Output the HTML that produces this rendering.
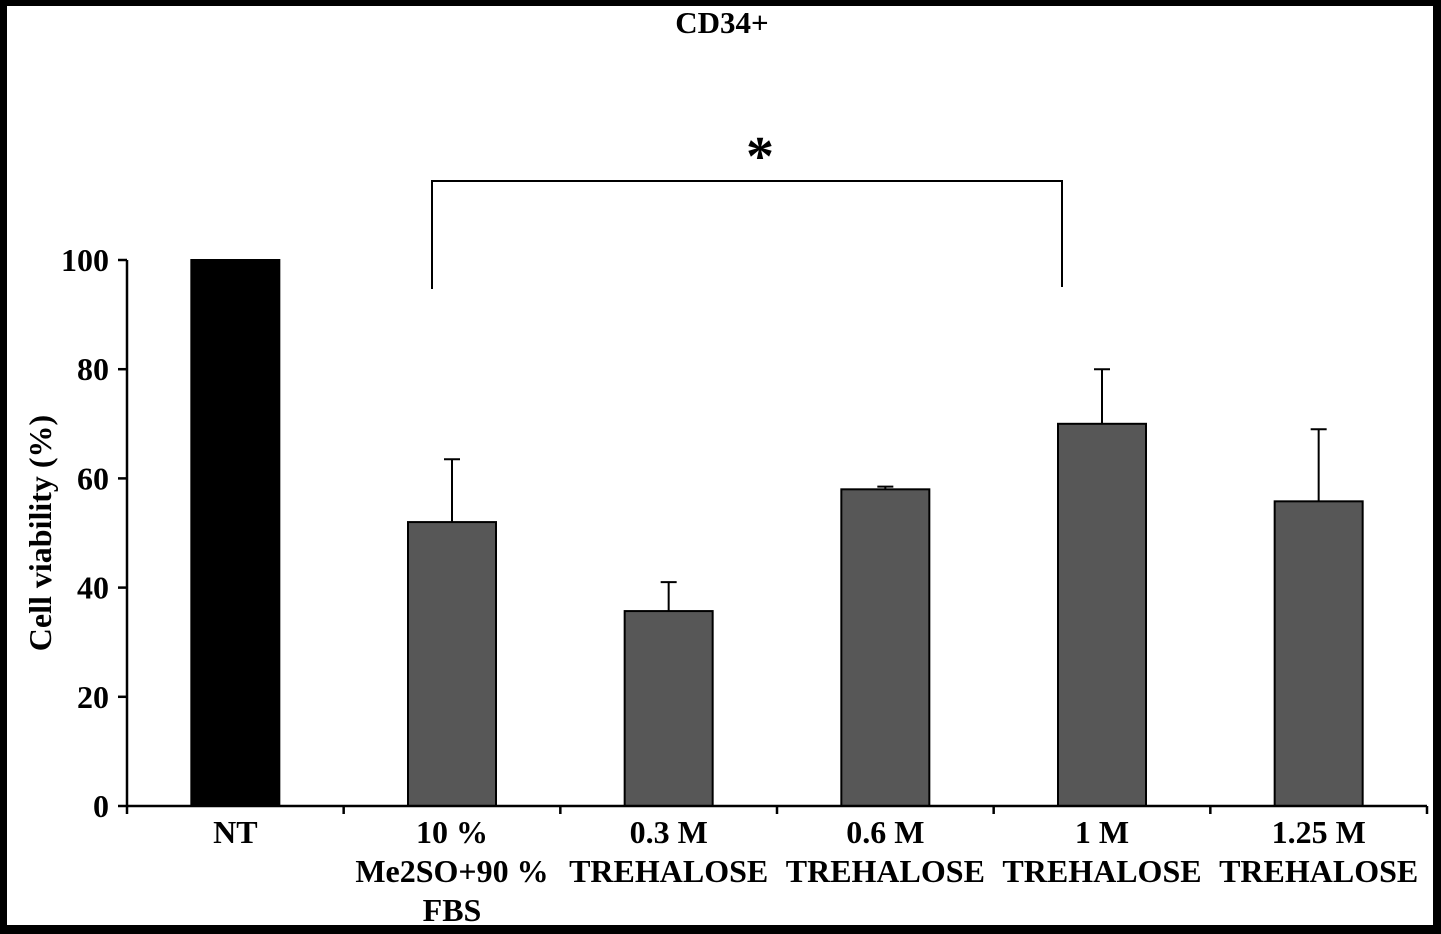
<!DOCTYPE html>
<html><head><meta charset="utf-8"><style>
html,body{margin:0;padding:0;background:#000;}
svg{display:block;font-family:"Liberation Serif",serif;font-weight:bold;}
</style></head><body>
<svg width="1441" height="934">
<rect x="7" y="6" width="1426" height="919" fill="#fff"/>
<text x="722" y="33" font-size="31" text-anchor="middle">CD34+</text>
<g id="plot"></g>
</svg>
<script>
const categories=[["NT"],["10 %","Me2SO+90 %","FBS"],["0.3 M","TREHALOSE"],["0.6 M","TREHALOSE"],["1 M","TREHALOSE"],["1.25 M","TREHALOSE"]];
const values=[100,52,35.7,58,70,55.8];
const errors=[0,11.5,5.3,0.5,10,13.2];
const yTicks=[0,20,40,60,80,100];
const NS="http://www.w3.org/2000/svg";
const g=document.getElementById('plot');
const x0=127,x1=1427,y0=806,y100=260;
const band=(x1-x0)/categories.length;
const y=v=>y0-(v/100)*(y0-y100);
const xc=i=>x0+band*(i+0.5);
function mk(t,a){const e=document.createElementNS(NS,t);for(const k in a)e.setAttribute(k,a[k]);g.appendChild(e);return e;}
let e=mk('line',{x1:x0,y1:y0,x2:x0,y2:y100,stroke:'#000','stroke-width':2.5});


yTicks.forEach(v=>{
 let t=mk('line',{x1:x0-9,y1:y(v),x2:x0,y2:y(v),stroke:'#000','stroke-width':2.5});
 
 
 let l=mk('text',{x:x0-18,y:y(v)+11,'font-size':32,'text-anchor':'end'});l.textContent=v;
 
 
});
let yl=mk('text',{x:0,y:0,'font-size':32,'text-anchor':'middle',transform:'translate(51,533) rotate(-90)'});
yl.textContent='Cell viability (%)';


values.forEach((v,i)=>{
 const bw=88;
 let b=mk('rect',{x:xc(i)-bw/2,y:y(v),width:bw,height:y0-y(v),fill:i==0?'#000':'#575757',stroke:'#000','stroke-width':2});
 
 
 if(errors[i]>0){
  let eb=mk('path',{d:`M${xc(i)},${y(v)} V${y(v+errors[i])} M${xc(i)-8},${y(v+errors[i])} H${xc(i)+8}`,stroke:'#000','stroke-width':2,fill:'none'});
  
  
 }
 categories[i].forEach((s,j)=>{
  let t=mk('text',{x:xc(i),y:843+j*39,'font-size':32,'text-anchor':'middle'});t.textContent=s;
  
  
 });
});
e=mk('line',{x1:x0,y1:y0,x2:x1,y2:y0,stroke:'#000','stroke-width':2.5});


for(let i=0;i<=categories.length;i++){
 let t=mk('line',{x1:x0+band*i,y1:y0,x2:x0+band*i,y2:y0+8,stroke:'#000','stroke-width':2.5});
 
 
}
let br=mk('path',{d:`M${xc(1)-20},289 V181 H${xc(4)-40} V287`,stroke:'#000','stroke-width':2,fill:'none'});


let st=mk('text',{x:760,y:175,'font-size':56,'text-anchor':'middle'});st.textContent='*';


</script>
</body></html>
